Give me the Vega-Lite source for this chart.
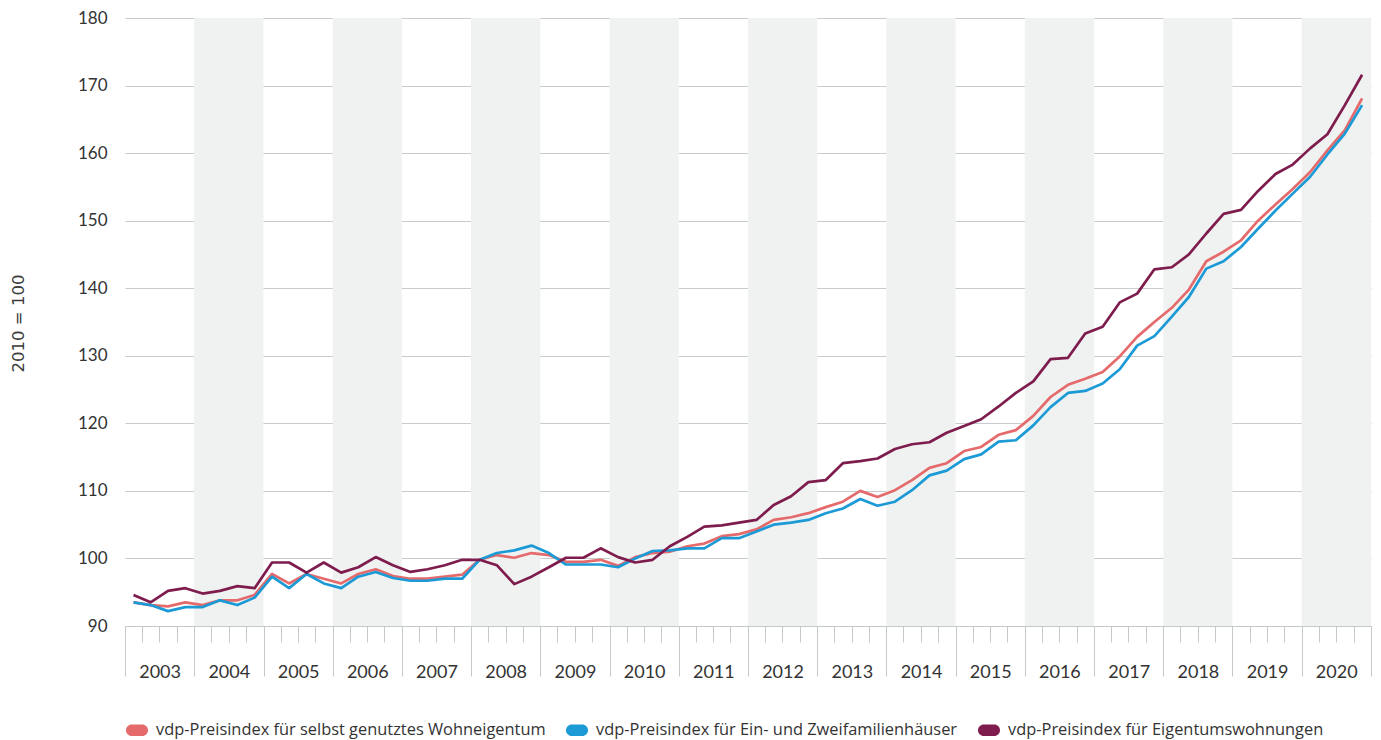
{
  "$schema": "https://vega.github.io/schema/vega-lite/v6.json",
  "autosize": {"type": "none"},
  "padding": {"left": 125, "top": 18, "right": 10, "bottom": 114},
  "width": 1246,
  "height": 608,
  "background": "#ffffff",
  "config": {
    "font": "Lato",
    "view": {"stroke": null},
    "axis": {"labelFont": "Lato", "titleFont": "DejaVu Sans", "labelColor": "#333333", "titleColor": "#333333"},
    "legend": {"labelFont": "Open Sans"}
  },
  "layer": [
    {
      "data": {"values": [
        {"start": "2004-01-01", "end": "2005-01-01"},
        {"start": "2006-01-01", "end": "2007-01-01"},
        {"start": "2008-01-01", "end": "2009-01-01"},
        {"start": "2010-01-01", "end": "2011-01-01"},
        {"start": "2012-01-01", "end": "2013-01-01"},
        {"start": "2014-01-01", "end": "2015-01-01"},
        {"start": "2016-01-01", "end": "2017-01-01"},
        {"start": "2018-01-01", "end": "2019-01-01"},
        {"start": "2020-01-01", "end": "2021-01-01"}
      ]},
      "mark": {"type": "rect", "color": "#f0f2f2"},
      "encoding": {
        "x": {"field": "start", "type": "temporal", "scale": {"type": "utc"}, "title": null},
        "x2": {"field": "end"}
      }
    },
    {
      "data": {"values": [
{"d":"2003-02-15","s":"W","v":93.5},{"d":"2003-02-15","s":"E","v":93.5},{"d":"2003-02-15","s":"T","v":94.6},
{"d":"2003-05-16","s":"W","v":93.1},{"d":"2003-05-16","s":"E","v":93.1},{"d":"2003-05-16","s":"T","v":93.5},
{"d":"2003-08-16","s":"W","v":92.9},{"d":"2003-08-16","s":"E","v":92.2},{"d":"2003-08-16","s":"T","v":95.2},
{"d":"2003-11-15","s":"W","v":93.5},{"d":"2003-11-15","s":"E","v":92.8},{"d":"2003-11-15","s":"T","v":95.6},
{"d":"2004-02-15","s":"W","v":93.1},{"d":"2004-02-15","s":"E","v":92.8},{"d":"2004-02-15","s":"T","v":94.8},
{"d":"2004-05-16","s":"W","v":93.8},{"d":"2004-05-16","s":"E","v":93.8},{"d":"2004-05-16","s":"T","v":95.2},
{"d":"2004-08-16","s":"W","v":93.8},{"d":"2004-08-16","s":"E","v":93.1},{"d":"2004-08-16","s":"T","v":95.9},
{"d":"2004-11-15","s":"W","v":94.6},{"d":"2004-11-15","s":"E","v":94.2},{"d":"2004-11-15","s":"T","v":95.6},
{"d":"2005-02-15","s":"W","v":97.7},{"d":"2005-02-15","s":"E","v":97.3},{"d":"2005-02-15","s":"T","v":99.4},
{"d":"2005-05-16","s":"W","v":96.3},{"d":"2005-05-16","s":"E","v":95.6},{"d":"2005-05-16","s":"T","v":99.4},
{"d":"2005-08-16","s":"W","v":97.7},{"d":"2005-08-16","s":"E","v":97.7},{"d":"2005-08-16","s":"T","v":97.9},
{"d":"2005-11-15","s":"W","v":97.0},{"d":"2005-11-15","s":"E","v":96.3},{"d":"2005-11-15","s":"T","v":99.4},
{"d":"2006-02-15","s":"W","v":96.3},{"d":"2006-02-15","s":"E","v":95.6},{"d":"2006-02-15","s":"T","v":97.9},
{"d":"2006-05-16","s":"W","v":97.7},{"d":"2006-05-16","s":"E","v":97.3},{"d":"2006-05-16","s":"T","v":98.7},
{"d":"2006-08-16","s":"W","v":98.4},{"d":"2006-08-16","s":"E","v":98.0},{"d":"2006-08-16","s":"T","v":100.2},
{"d":"2006-11-15","s":"W","v":97.4},{"d":"2006-11-15","s":"E","v":97.1},{"d":"2006-11-15","s":"T","v":99.0},
{"d":"2007-02-15","s":"W","v":97.0},{"d":"2007-02-15","s":"E","v":96.7},{"d":"2007-02-15","s":"T","v":98.0},
{"d":"2007-05-16","s":"W","v":97.0},{"d":"2007-05-16","s":"E","v":96.7},{"d":"2007-05-16","s":"T","v":98.4},
{"d":"2007-08-16","s":"W","v":97.3},{"d":"2007-08-16","s":"E","v":97.0},{"d":"2007-08-16","s":"T","v":99.0},
{"d":"2007-11-15","s":"W","v":97.6},{"d":"2007-11-15","s":"E","v":97.0},{"d":"2007-11-15","s":"T","v":99.8},
{"d":"2008-02-15","s":"W","v":99.8},{"d":"2008-02-15","s":"E","v":99.8},{"d":"2008-02-15","s":"T","v":99.8},
{"d":"2008-05-16","s":"W","v":100.5},{"d":"2008-05-16","s":"E","v":100.8},{"d":"2008-05-16","s":"T","v":99.0},
{"d":"2008-08-16","s":"W","v":100.1},{"d":"2008-08-16","s":"E","v":101.2},{"d":"2008-08-16","s":"T","v":96.2},
{"d":"2008-11-15","s":"W","v":100.8},{"d":"2008-11-15","s":"E","v":101.9},{"d":"2008-11-15","s":"T","v":97.3},
{"d":"2009-02-15","s":"W","v":100.5},{"d":"2009-02-15","s":"E","v":100.8},{"d":"2009-02-15","s":"T","v":98.7},
{"d":"2009-05-16","s":"W","v":99.5},{"d":"2009-05-16","s":"E","v":99.1},{"d":"2009-05-16","s":"T","v":100.1},
{"d":"2009-08-16","s":"W","v":99.5},{"d":"2009-08-16","s":"E","v":99.1},{"d":"2009-08-16","s":"T","v":100.1},
{"d":"2009-11-15","s":"W","v":99.8},{"d":"2009-11-15","s":"E","v":99.1},{"d":"2009-11-15","s":"T","v":101.5},
{"d":"2010-02-15","s":"W","v":98.9},{"d":"2010-02-15","s":"E","v":98.7},{"d":"2010-02-15","s":"T","v":100.2},
{"d":"2010-05-16","s":"W","v":100.2},{"d":"2010-05-16","s":"E","v":100.0},{"d":"2010-05-16","s":"T","v":99.4},
{"d":"2010-08-16","s":"W","v":100.8},{"d":"2010-08-16","s":"E","v":101.1},{"d":"2010-08-16","s":"T","v":99.8},
{"d":"2010-11-15","s":"W","v":101.0},{"d":"2010-11-15","s":"E","v":101.2},{"d":"2010-11-15","s":"T","v":101.8},
{"d":"2011-02-15","s":"W","v":101.8},{"d":"2011-02-15","s":"E","v":101.5},{"d":"2011-02-15","s":"T","v":103.2},
{"d":"2011-05-16","s":"W","v":102.2},{"d":"2011-05-16","s":"E","v":101.5},{"d":"2011-05-16","s":"T","v":104.7},
{"d":"2011-08-16","s":"W","v":103.3},{"d":"2011-08-16","s":"E","v":103.0},{"d":"2011-08-16","s":"T","v":104.9},
{"d":"2011-11-15","s":"W","v":103.6},{"d":"2011-11-15","s":"E","v":103.0},{"d":"2011-11-15","s":"T","v":105.3},
{"d":"2012-02-15","s":"W","v":104.3},{"d":"2012-02-15","s":"E","v":104.0},{"d":"2012-02-15","s":"T","v":105.7},
{"d":"2012-05-16","s":"W","v":105.7},{"d":"2012-05-16","s":"E","v":105.0},{"d":"2012-05-16","s":"T","v":107.9},
{"d":"2012-08-16","s":"W","v":106.1},{"d":"2012-08-16","s":"E","v":105.3},{"d":"2012-08-16","s":"T","v":109.2},
{"d":"2012-11-15","s":"W","v":106.7},{"d":"2012-11-15","s":"E","v":105.7},{"d":"2012-11-15","s":"T","v":111.3},
{"d":"2013-02-15","s":"W","v":107.6},{"d":"2013-02-15","s":"E","v":106.7},{"d":"2013-02-15","s":"T","v":111.6},
{"d":"2013-05-16","s":"W","v":108.4},{"d":"2013-05-16","s":"E","v":107.4},{"d":"2013-05-16","s":"T","v":114.1},
{"d":"2013-08-16","s":"W","v":110.0},{"d":"2013-08-16","s":"E","v":108.8},{"d":"2013-08-16","s":"T","v":114.4},
{"d":"2013-11-15","s":"W","v":109.1},{"d":"2013-11-15","s":"E","v":107.8},{"d":"2013-11-15","s":"T","v":114.8},
{"d":"2014-02-15","s":"W","v":110.1},{"d":"2014-02-15","s":"E","v":108.4},{"d":"2014-02-15","s":"T","v":116.2},
{"d":"2014-05-16","s":"W","v":111.6},{"d":"2014-05-16","s":"E","v":110.1},{"d":"2014-05-16","s":"T","v":116.9},
{"d":"2014-08-16","s":"W","v":113.4},{"d":"2014-08-16","s":"E","v":112.3},{"d":"2014-08-16","s":"T","v":117.2},
{"d":"2014-11-15","s":"W","v":114.1},{"d":"2014-11-15","s":"E","v":113.0},{"d":"2014-11-15","s":"T","v":118.6},
{"d":"2015-02-15","s":"W","v":115.9},{"d":"2015-02-15","s":"E","v":114.7},{"d":"2015-02-15","s":"T","v":119.6},
{"d":"2015-05-16","s":"W","v":116.5},{"d":"2015-05-16","s":"E","v":115.4},{"d":"2015-05-16","s":"T","v":120.6},
{"d":"2015-08-16","s":"W","v":118.3},{"d":"2015-08-16","s":"E","v":117.3},{"d":"2015-08-16","s":"T","v":122.5},
{"d":"2015-11-15","s":"W","v":119.0},{"d":"2015-11-15","s":"E","v":117.5},{"d":"2015-11-15","s":"T","v":124.5},
{"d":"2016-02-15","s":"W","v":121.1},{"d":"2016-02-15","s":"E","v":119.7},{"d":"2016-02-15","s":"T","v":126.2},
{"d":"2016-05-16","s":"W","v":123.9},{"d":"2016-05-16","s":"E","v":122.4},{"d":"2016-05-16","s":"T","v":129.5},
{"d":"2016-08-16","s":"W","v":125.7},{"d":"2016-08-16","s":"E","v":124.5},{"d":"2016-08-16","s":"T","v":129.7},
{"d":"2016-11-15","s":"W","v":126.6},{"d":"2016-11-15","s":"E","v":124.8},{"d":"2016-11-15","s":"T","v":133.3},
{"d":"2017-02-15","s":"W","v":127.6},{"d":"2017-02-15","s":"E","v":125.9},{"d":"2017-02-15","s":"T","v":134.3},
{"d":"2017-05-16","s":"W","v":129.9},{"d":"2017-05-16","s":"E","v":128.0},{"d":"2017-05-16","s":"T","v":137.9},
{"d":"2017-08-16","s":"W","v":132.8},{"d":"2017-08-16","s":"E","v":131.5},{"d":"2017-08-16","s":"T","v":139.2},
{"d":"2017-11-15","s":"W","v":135.0},{"d":"2017-11-15","s":"E","v":132.9},{"d":"2017-11-15","s":"T","v":142.8},
{"d":"2018-02-15","s":"W","v":137.1},{"d":"2018-02-15","s":"E","v":135.8},{"d":"2018-02-15","s":"T","v":143.1},
{"d":"2018-05-16","s":"W","v":139.8},{"d":"2018-05-16","s":"E","v":138.7},{"d":"2018-05-16","s":"T","v":145.0},
{"d":"2018-08-16","s":"W","v":144.0},{"d":"2018-08-16","s":"E","v":142.9},{"d":"2018-08-16","s":"T","v":148.1},
{"d":"2018-11-15","s":"W","v":145.4},{"d":"2018-11-15","s":"E","v":144.0},{"d":"2018-11-15","s":"T","v":151.0},
{"d":"2019-02-15","s":"W","v":147.1},{"d":"2019-02-15","s":"E","v":146.1},{"d":"2019-02-15","s":"T","v":151.6},
{"d":"2019-05-16","s":"W","v":150.0},{"d":"2019-05-16","s":"E","v":148.8},{"d":"2019-05-16","s":"T","v":154.4},
{"d":"2019-08-16","s":"W","v":152.4},{"d":"2019-08-16","s":"E","v":151.5},{"d":"2019-08-16","s":"T","v":156.9},
{"d":"2019-11-15","s":"W","v":154.7},{"d":"2019-11-15","s":"E","v":154.0},{"d":"2019-11-15","s":"T","v":158.3},
{"d":"2020-02-15","s":"W","v":157.2},{"d":"2020-02-15","s":"E","v":156.5},{"d":"2020-02-15","s":"T","v":160.7},
{"d":"2020-05-16","s":"W","v":160.4},{"d":"2020-05-16","s":"E","v":159.8},{"d":"2020-05-16","s":"T","v":162.8},
{"d":"2020-08-16","s":"W","v":163.4},{"d":"2020-08-16","s":"E","v":162.9},{"d":"2020-08-16","s":"T","v":167.1},
{"d":"2020-11-15","s":"W","v":168.1},{"d":"2020-11-15","s":"E","v":167.1},{"d":"2020-11-15","s":"T","v":171.6}
      ]},
      "mark": {"type": "line", "strokeWidth": 2.7, "strokeJoin": "round"},
      "encoding": {
        "x": {
          "field": "d", "type": "temporal",
          "scale": {"type": "utc", "domain": [{"year": 2003, "month": 1, "date": 1, "utc": true}, {"year": 2021, "month": 1, "date": 1, "utc": true}]},
          "title": null,
          "axis": {
            "grid": false,
            "domain": true, "domainColor": "#c3c9cd", "domainWidth": 1,
            "ticks": true, "tickColor": "#c3c9cd", "tickWidth": 1,
            "tickCount": {"interval": "month", "step": 3},
            "tickSize": {"condition": {"test": "utcmonth(datum.value) == 0", "value": 50}, "value": 16},
            "labelExpr": "utcmonth(datum.value) == 0 && utcyear(datum.value) < 2021 ? utcFormat(datum.value, '%Y') : ''",
            "labelOffset": 34.6,
            "labelPadding": -13,
            "labelFontSize": 18,
            "labelColor": "#333333",
            "labelOverlap": false,
            "labelFlush": false,
            "labelBound": false
          }
        },
        "y": {
          "field": "v", "type": "quantitative",
          "scale": {"domain": [90, 180], "nice": false, "zero": false},
          "axis": {
            "values": [90, 100, 110, 120, 130, 140, 150, 160, 170, 180],
            "grid": true, "gridColor": "#c8ccce", "gridWidth": 1,
            "domain": false, "ticks": false,
            "labelPadding": 18, "labelFontSize": 17, "labelColor": "#333333",
            "title": "2010 = 100", "titleFontSize": 16.5, "titleFontWeight": "normal", "titleFont": "DejaVu Sans",
            "titleColor": "#3a3a3a",
            "titleAngle": -90, "titleX": -107, "titleY": 305, "titleAlign": "center", "titleBaseline": "middle"
          }
        },
        "color": {
          "field": "s", "type": "nominal",
          "scale": {"domain": ["W", "E", "T"], "range": ["#e46a6c", "#1c9ad6", "#7e1c4d"]},
          "legend": {
            "orient": "none", "legendX": 0, "legendY": 700,
            "direction": "horizontal", "title": null,
            "labelExpr": "datum.label == 'W' ? 'vdp-Preisindex für selbst genutztes Wohneigentum' : datum.label == 'E' ? 'vdp-Preisindex für Ein- und Zweifamilienhäuser' : 'vdp-Preisindex für Eigentumswohnungen'",
            "labelFont": "Open Sans", "labelFontSize": 16.4, "labelColor": "#333333", "labelLimit": 0,
            "symbolType": "M-0.45,-0.5L0.45,-0.5A0.5,0.5 0 0 1 0.45,0.5L-0.45,0.5A0.5,0.5 0 0 1 -0.45,-0.5Z",
            "symbolSize": 537, "symbolStrokeWidth": 0, "symbolOpacity": 1,
            "columnPadding": 19, "labelOffset": 7,
            "encoding": {"symbols": {
              "fill": {"condition": [{"test": "datum.value == 'W'", "value": "#e46a6c"}, {"test": "datum.value == 'E'", "value": "#1c9ad6"}], "value": "#7e1c4d"},
              "fillOpacity": {"value": 1}
            }}
          }
        }
      }
    }
  ]
}
